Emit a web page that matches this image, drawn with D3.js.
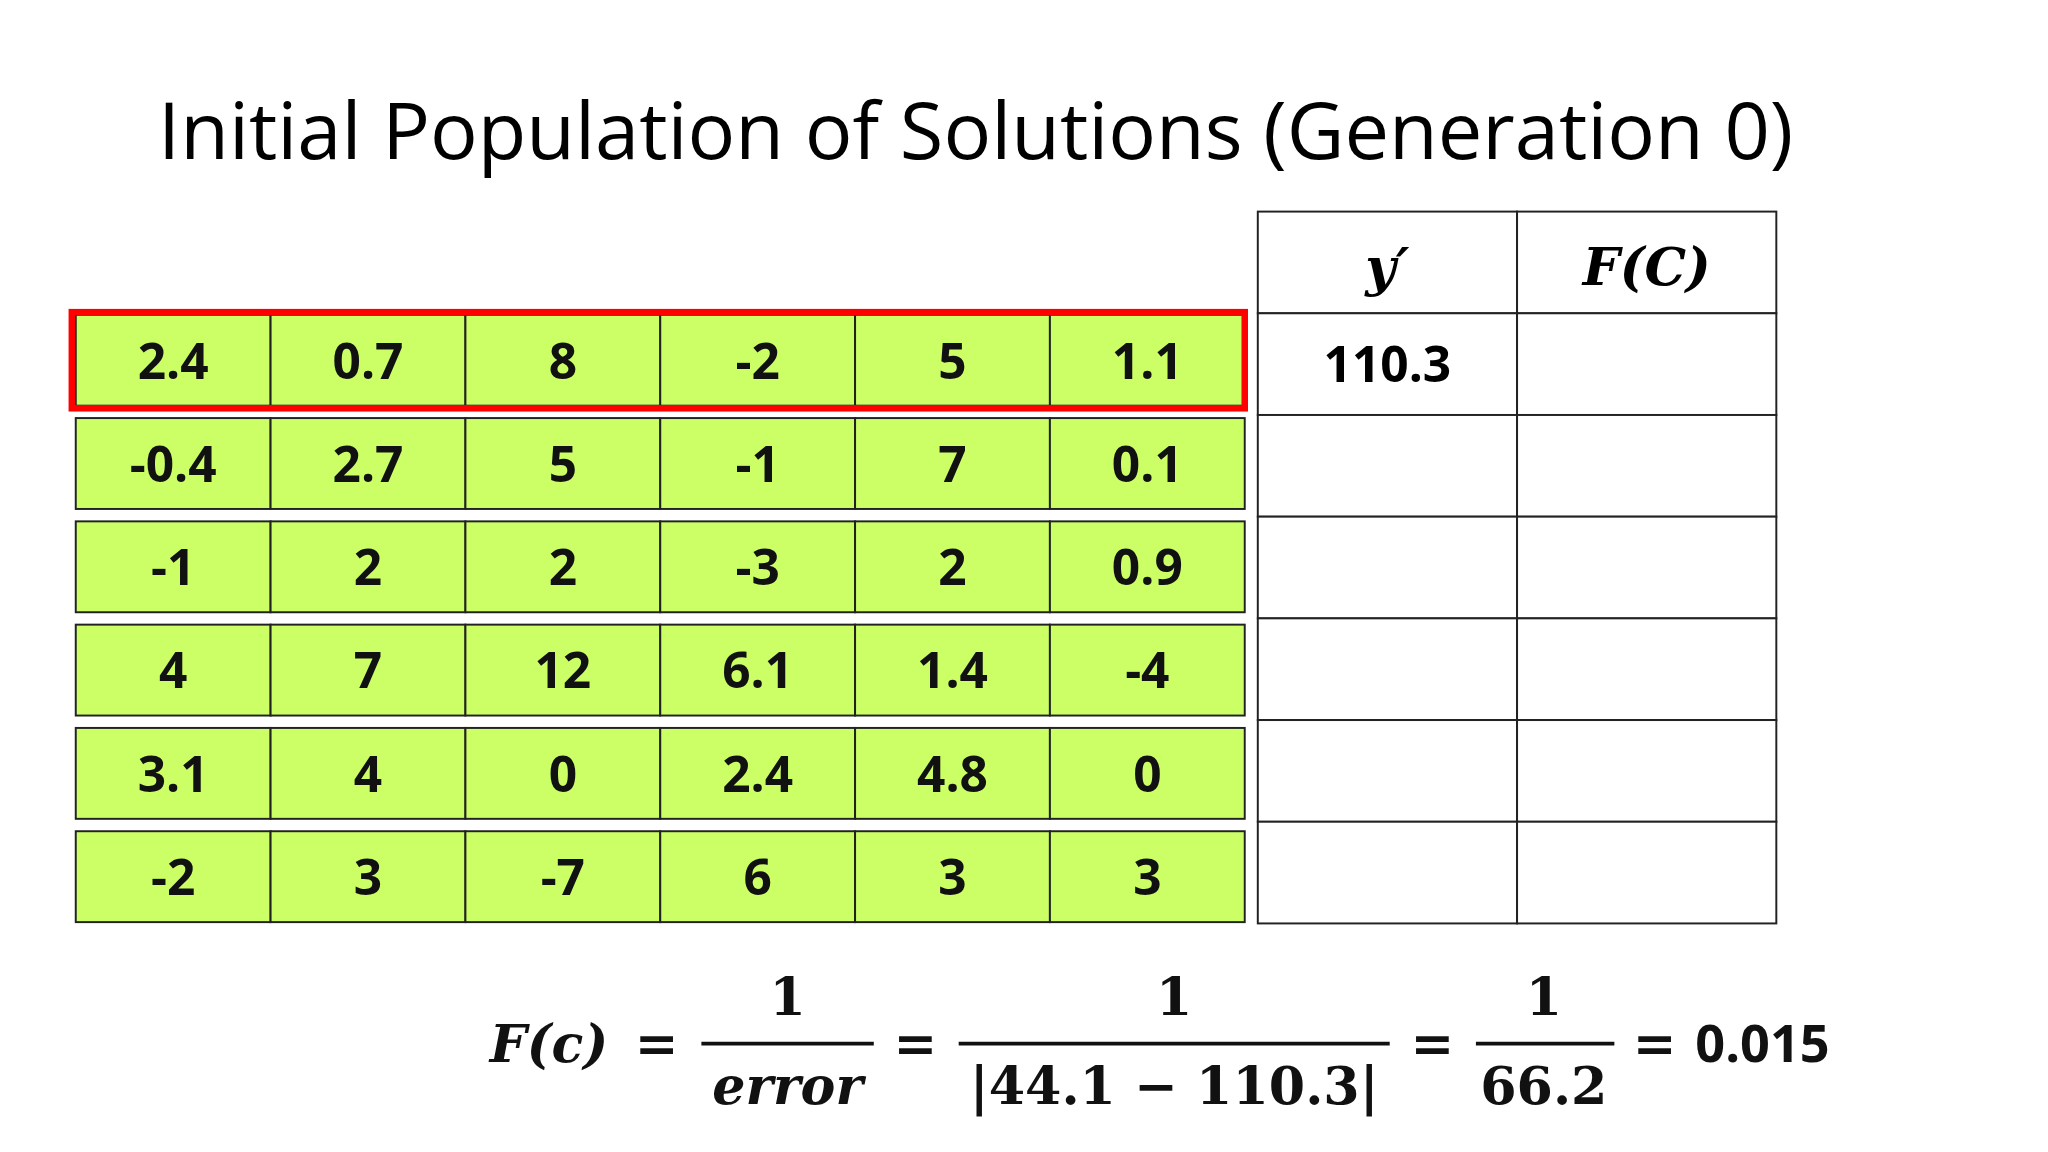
<!DOCTYPE html>
<html><head><meta charset="utf-8">
<script src="https://cdn.jsdelivr.net/npm/d3@7"></script>
<style>body{margin:0;background:#fff}</style>
</head><body><div id="chart"></div>
<script>
const title = "Initial Population of Solutions (Generation 0)";
const genes = [
  ["2.4","0.7","8","-2","5","1.1"],
  ["-0.4","2.7","5","-1","7","0.1"],
  ["-1","2","2","-3","2","0.9"],
  ["4","7","12","6.1","1.4","-4"],
  ["3.1","4","0","2.4","4.8","0"],
  ["-2","3","-7","6","3","3"]
];
const outputs = ["110.3","","","","",""];
const fitness = ["","","","","",""];
const headers = ["y′","F(C)"];

const W = 1568, H = 882;
const svg = d3.select("#chart").append("svg")
  .attr("width", 2048).attr("height", 1152).attr("viewBox", `0 0 ${W} ${H}`);

const font = "'Open Sans', Lato, sans-serif";
svg.append("text").attr("x", 747).attr("y", 122).attr("text-anchor", "middle")
  .attr("font-family", font).attr("font-size", 60).attr("textLength", 1252)
  .attr("lengthAdjust", "spacingAndGlyphs").text(title);

// gene grid
const x = d3.scaleBand().domain(d3.range(6)).range([58, 953]);
const y = d3.scaleBand().domain(d3.range(6)).range([241, 706]).paddingInner(0.12);
const rows = svg.selectAll("g.row").data(genes).join("g").attr("class", "row");
rows.selectAll("rect").data(d => d).join("rect")
  .attr("x", (d, i) => x(i)).attr("width", x.bandwidth())
  .attr("y", function() { return y(genes.indexOf(d3.select(this.parentNode).datum())); })
  .attr("height", y.bandwidth())
  .attr("fill", "#ccff66").attr("stroke", "#222").attr("stroke-width", 1.5);
rows.each(function(r, ri) {
  d3.select(this).selectAll("text").data(r).join("text")
    .attr("x", (d, i) => x(i) + x.bandwidth() / 2)
    .attr("y", y(ri) + y.bandwidth() / 2 + 14)
    .attr("text-anchor", "middle").attr("font-family", font)
    .attr("font-weight", "bold").attr("font-size", 38).attr("fill", "#111").text(d => d);
});
svg.append("rect").attr("x", 55).attr("y", y(0) - 2).attr("width", 898)
  .attr("height", y.bandwidth() + 4).attr("fill", "none").attr("stroke", "#ff0000").attr("stroke-width", 5);

// right table
const cx = d3.scaleBand().domain([0, 1]).range([963, 1360]);
const ry = d3.scaleBand().domain(d3.range(7)).range([162, 707]);
const cells = [];
for (let r = 0; r < 7; r++) for (let c = 0; c < 2; c++) cells.push({r, c});
svg.selectAll("rect.cell").data(cells).join("rect").attr("class", "cell")
  .attr("x", d => cx(d.c)).attr("y", d => ry(d.r))
  .attr("width", cx.bandwidth()).attr("height", ry.bandwidth())
  .attr("fill", "#fff").attr("stroke", "#222").attr("stroke-width", 1.5);
svg.selectAll("text.hdr").data(headers).join("text").attr("class", "hdr")
  .attr("x", (d, i) => cx(i) + cx.bandwidth() / 2).attr("y", ry(0) + 56)
  .attr("text-anchor", "middle").attr("font-family", "'DejaVu Serif', serif")
  .attr("font-style", "italic").attr("font-weight", "bold").attr("font-size", 40).text(d => d);
const vals = outputs.map((o, i) => ({o, f: fitness[i], r: i + 1}));
svg.selectAll("text.out").data(vals).join("text").attr("class", "out")
  .attr("x", cx(0) + cx.bandwidth() / 2).attr("y", d => ry(d.r) + ry.bandwidth() / 2 + 14)
  .attr("text-anchor", "middle").attr("font-family", font).attr("font-weight", "bold")
  .attr("font-size", 38).text(d => d.o);

// formula
const serif = "'DejaVu Serif', 'Liberation Serif', serif";
const f = svg.append("g").attr("font-family", serif).attr("font-weight", "bold").attr("font-size", 40).attr("fill", "#111");
const t = (xx, yy, s, it, anchor) => f.append("text").attr("x", xx).attr("y", yy)
  .attr("font-style", it ? "italic" : "normal").attr("text-anchor", anchor || "start").text(s);
const ln = (x1, x2) => f.append("line").attr("x1", x1).attr("x2", x2).attr("y1", 799).attr("y2", 799).attr("stroke", "#111").attr("stroke-width", 3);
t(375, 813, "F(c)", true);
t(486, 813, "=");
t(603, 777, "1", false, "middle"); ln(537, 669); t(603, 845, "error", true, "middle");
t(684, 813, "=");
t(899, 777, "1", false, "middle"); ln(734, 1064); t(899, 845, "|44.1 − 110.3|", false, "middle");
t(1080, 813, "=");
t(1182, 777, "1", false, "middle"); ln(1130, 1236); t(1182, 845, "66.2", false, "middle");
t(1250, 813, "=");
f.append("text").attr("x", 1298).attr("y", 813).attr("font-family", font).attr("font-size", 40).text("0.015");
</script></body></html>
